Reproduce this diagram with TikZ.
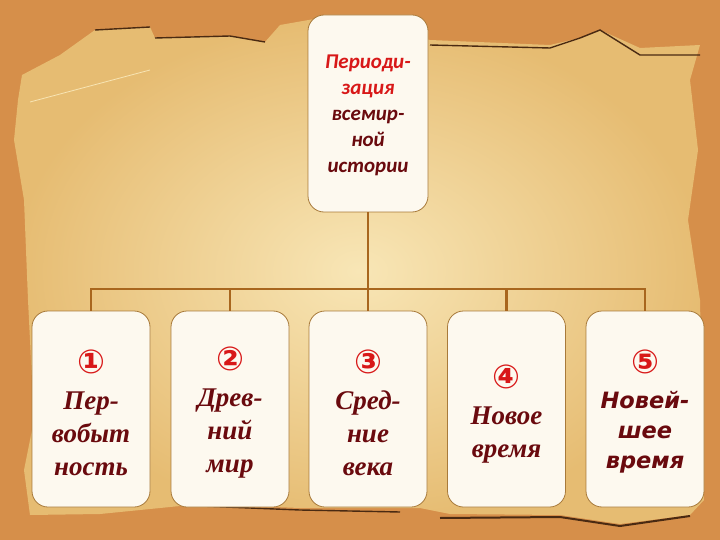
\documentclass[tikz,border=0pt]{standalone}
\usepackage{fontspec}
\setmainfont{Liberation Serif}
\newfontfamily\topfont{Carlito}
\newfontfamily\numfont{DejaVu Sans}
\newfontfamily\lastfont{DejaVu Sans}
\definecolor{bgorange}{HTML}{D68F4A}
\definecolor{paperlight}{HTML}{F8E6B6}
\definecolor{paperdark}{HTML}{E6BC72}
\definecolor{tornedge}{HTML}{4A2A12}
\definecolor{linkbrown}{HTML}{A8661E}
\definecolor{boxedge}{HTML}{A87A3A}
\definecolor{boxfill}{HTML}{FDF9EF}
\definecolor{numred}{HTML}{D81818}
\definecolor{txtmaroon}{HTML}{6A0A0E}
\tikzset{
  card/.style={draw=boxedge,line width=0.8pt,fill=boxfill,rounded corners=16pt,
    minimum width=118pt,minimum height=196pt,inner sep=0pt,align=center},
  link/.style={draw=linkbrown,line width=2.2pt},
}
\newcommand{\cnum}[1]{{\numfont\bfseries\fontsize{33}{33}\selectfont\color{numred}#1}}
\begin{document}
\begin{tikzpicture}[x=1pt,y=-1pt]
        \useasboundingbox (0,0) rectangle (720,540);
        % background and paper
        \fill[bgorange] (0,0) rectangle (720,540);
        \shade[inner color=paperlight,outer color=paperdark]
          (22,75) -- (60,55) -- (95,30) -- (150,27) -- (155,38) -- (230,36) -- (265,42)
          -- (280,25) -- (320,18) -- (430,40) -- (550,45) -- (580,38) -- (600,30)
          -- (640,48) -- (700,45) -- (690,80) -- (698,150) -- (688,220) -- (700,300)
          -- (704,500) -- (690,515) -- (620,524) -- (560,515) -- (450,514) -- (420,508)
          -- (300,508) -- (200,504) -- (100,514) -- (30,515) -- (24,470) -- (34,420)
          -- (28,300) -- (24,200) -- (14,140) -- (18,100) -- cycle;
        \draw[tornedge,line width=1.4pt] (95,30) -- (150,27);
        \draw[tornedge,line width=1.4pt] (155,38) -- (230,36) -- (265,42);
        \draw[tornedge,line width=1.4pt] (430,45) -- (550,48) -- (580,38) -- (600,30) -- (640,55) -- (700,55);
        \draw[tornedge,line width=1.4pt] (200,506) -- (300,510) -- (400,512);
        \draw[tornedge,line width=2pt] (440,518) -- (560,517) -- (620,526) -- (690,516);
        \draw[paperlight,line width=0.8pt] (30,102) -- (150,70);

        % nodes
        \node[card,minimum width=120pt,minimum height=197pt] (top) at (368,113.5) {};
        \node[align=center,text=txtmaroon,font=\topfont\bfseries\itshape\fontsize{21}{26}\selectfont] (toptxt) at (368,115)
          {\textcolor{numred}{Периоди-}\\\textcolor{numred}{зация}\\всемир-\\ной\\истории};

        \node[card] (b1) at (91,409) {};
        \node[card] (b2) at (230,409) {};
        \node[card] (b3) at (368,409) {};
        \node[card] (b4) at (506.5,409) {};
        \node[card] (b5) at (645,409) {};

        \node[align=center,text=txtmaroon,font=\bfseries\itshape\fontsize{27}{33}\selectfont] (t1) at (91,413)
          {\cnum{①}\\[3pt]Пер-\\вобыт\\ность};
        \node[align=center,text=txtmaroon,font=\bfseries\itshape\fontsize{27}{33}\selectfont] (t2) at (230,413)
          {\cnum{②}\\[3pt]Древ-\\ний\\мир};
        \node[align=center,text=txtmaroon,font=\bfseries\itshape\fontsize{27}{33}\selectfont] (t3) at (368,413)
          {\cnum{③}\\[3pt]Сред-\\ние\\века};
        \node[align=center,text=txtmaroon,font=\bfseries\itshape\fontsize{27}{33}\selectfont] (t4) at (506.5,414)
          {\cnum{④}\\[3pt]Новое\\время};
        \node[align=center,text=txtmaroon,font=\lastfont\bfseries\itshape\fontsize{22.5}{30}\selectfont] (t5) at (645,412)
          {\cnum{⑤}\\[5pt]Новей-\\шее\\время};

        % connectors
        \coordinate (bar) at (368,289);
        \draw[link] (top.south) -- (top.south |- bar);
        \draw[link,line cap=rect] (b1.north |- bar) -- (b5.north |- bar);
        \foreach \i in {1,...,5}
          \draw[link] (b\i.north |- bar) -- (b\i.north);
\end{tikzpicture}
\end{document}
